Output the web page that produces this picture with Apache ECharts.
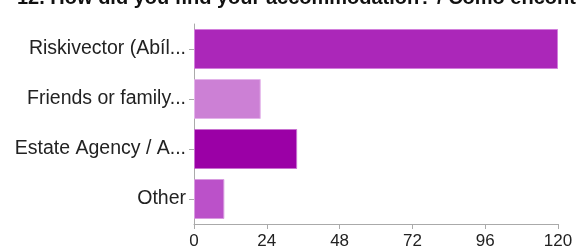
<!DOCTYPE html>
<html><head><meta charset="utf-8">
<script src="https://cdn.jsdelivr.net/npm/echarts@6/dist/echarts.min.js"></script>
<style>html,body{margin:0;padding:0;background:#fff}#c{width:576px;height:250px}</style>
</head><body><div id="c"></div>
<script>
const titleText = "12. How did you find your accommodation? / Como encontrou o seu alojamento?";
const categories = ["Riskivector (Abíl...", "Friends or family...", "Estate Agency / A...", "Other"];
const values = [120, 22, 34, 10];
const barColors = ["#ab27b9", "#cc80d5", "#9b00a6", "#bb51c9"];
const borderColors = ["#d27fdc", "#e3b3ea", "#c870d0", "#d89be0"];
const xTicks = [0, 24, 48, 72, 96, 120];

const chart = echarts.init(document.getElementById('c'), null, {renderer: 'canvas'});
chart.setOption({
  animation: false,
  title: {
    text: titleText, left: 12, top: -17,
    textStyle: {fontFamily: 'Liberation Sans, Arial', fontSize: 20, fontWeight: 'bold', color: '#111'}
  },
  grid: {left: 194, right: 18, top: 24, bottom: 26, containLabel: false},
  xAxis: {
    type: 'value', min: xTicks[0], max: xTicks[xTicks.length - 1], interval: 24,
    splitLine: {show: false},
    axisLine: {show: true, lineStyle: {color: '#aaa'}},
    axisTick: {show: true, length: 5, lineStyle: {color: '#aaa'}},
    axisLabel: {fontFamily: 'Liberation Sans, Arial', fontSize: 17, color: '#222', margin: 9}
  },
  yAxis: {
    type: 'category', data: categories, inverse: true,
    axisLine: {show: true, lineStyle: {color: '#aaa'}},
    axisTick: {show: true, length: 5, alignWithLabel: true, lineStyle: {color: '#aaa'}},
    axisLabel: {fontFamily: 'Liberation Sans, Arial', fontSize: 19.5, color: '#222', margin: 8}
  },
  series: [{
    type: 'bar', barCategoryGap: '20%',
    data: values.map((v, i) => ({value: v, itemStyle: {color: barColors[i], borderColor: borderColors[i], borderWidth: 1}}))
  }]
});
</script></body></html>
